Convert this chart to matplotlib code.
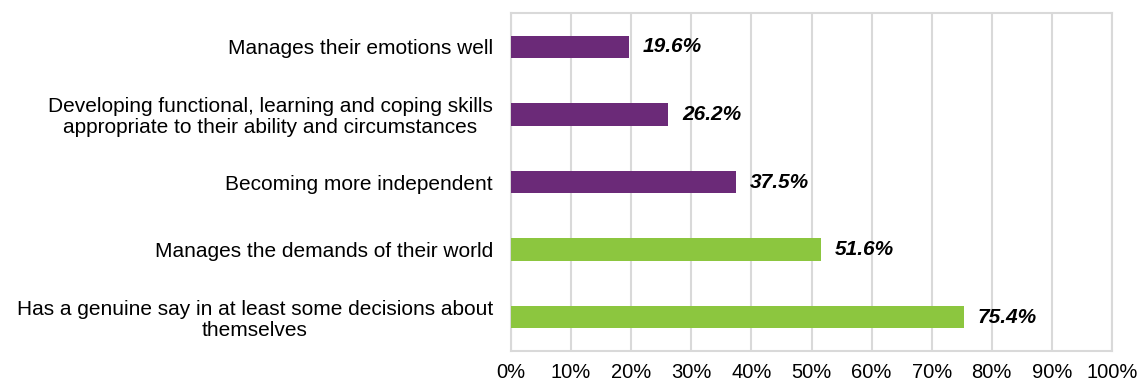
import matplotlib.pyplot as plt
import numpy as np

plt.rcParams['font.family'] = ['Liberation Sans', 'DejaVu Sans']

labels = ['Manages their emotions well',
          'Developing functional, learning and coping skills\nappropriate to their ability and circumstances',
          'Becoming more independent',
          'Manages the demands of their world',
          'Has a genuine say in at least some decisions about\nthemselves']
values = [19.6, 26.2, 37.5, 51.6, 75.4]
colors = ['#6B2A78', '#6B2A78', '#6B2A78', '#8CC63F', '#8CC63F']

fig = plt.figure(figsize=(11.39, 3.85), dpi=100)
ax = fig.add_axes([511/1139, 34/385, 601/1139, 338/385])

y = np.arange(len(labels))
ax.barh(y, values, height=0.33, color=colors, zorder=3)
for yi, v in zip(y, values):
    ax.text(v + 2.3, yi, f'{v:.1f}%', va='center', ha='left',
            fontsize=15, fontweight='bold', fontstyle='italic')

ax.set_ylim(len(labels) - 0.5, -0.5)
ax.set_xlim(0, 100)
ax.set_xticks(np.arange(0, 101, 10))
ax.set_xticklabels([f'{t}%' for t in range(0, 101, 10)], fontsize=14.5)
ax.set_yticks(y)
ax.set_yticklabels(labels, fontsize=15, linespacing=1.1)
for t in ax.get_yticklabels():
    t.set_multialignment('center')
ax.tick_params(length=0, axis='both')
ax.tick_params(axis='y', pad=13)
ax.tick_params(axis='x', pad=9)
ax.grid(axis='x', color='#d9d9d9', linewidth=1.5, zorder=0)
for s in ax.spines.values():
    s.set_color('#d9d9d9')
    s.set_linewidth(1.5)

fig.savefig('out.png', dpi=100)
